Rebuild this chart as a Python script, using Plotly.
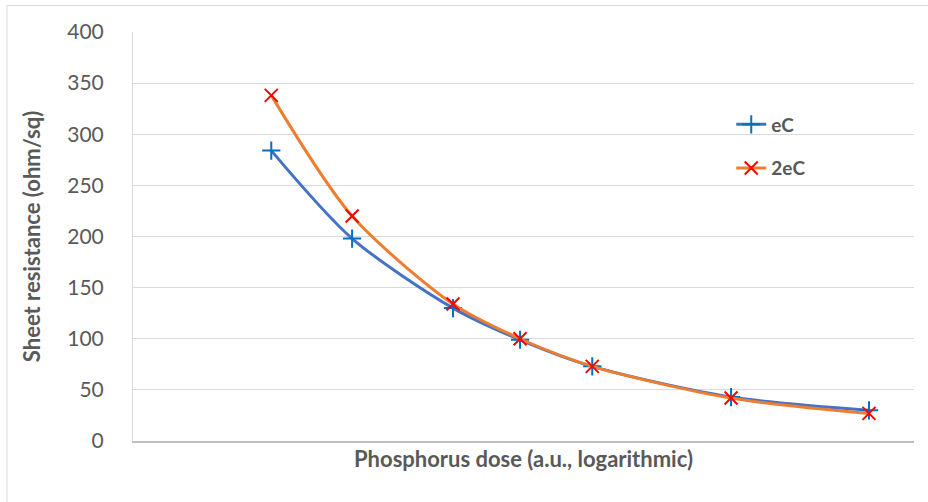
import plotly.graph_objects as go

# Phosphorus dose (arbitrary units, plotted on a log axis)
dose = [2.26, 3.64, 6.6, 9.8, 15.0, 34.0, 76.7]

# Sheet resistance (ohm/sq) for the two emitter conditions
sheet_res_eC = [284, 198, 130, 99, 73, 43, 30]
sheet_res_2eC = [338, 220, 134, 100, 73, 42, 27]

y_ticks = [0, 50, 100, 150, 200, 250, 300, 350, 400]

text_grey = "#595959"
font_family = "Lato, 'Open Sans', sans-serif"

fig = go.Figure()

fig.add_trace(go.Scatter(
    x=dose, y=sheet_res_eC, name="eC", legendgroup="a",
    mode="lines+markers",
    line=dict(color="#4472C4", width=3, shape="spline", smoothing=0.8),
    marker=dict(symbol="cross-thin", size=13, color="#0070C0",
                line=dict(color="#0070C0", width=2)),
))

fig.add_trace(go.Scatter(
    x=dose, y=sheet_res_2eC, name="2eC", legendgroup="b",
    mode="lines+markers",
    line=dict(color="#ED7D31", width=3, shape="spline", smoothing=0.8),
    marker=dict(symbol="x-thin", size=13, color="#FF0000",
                line=dict(color="#FF0000", width=2)),
))

# Chart-area frame
fig.add_shape(type="rect", xref="paper", yref="paper",
              x0=-0.1613, x1=1.05, y0=-0.25, y1=1.065,
              line=dict(color="#D9D9D9", width=1), layer="below")

fig.update_layout(
    width=928, height=502,
    margin=dict(l=133, r=14, t=32, b=61),
    paper_bgcolor="white", plot_bgcolor="white",
    font=dict(family=font_family, color=text_grey),
    showlegend=True,
    legend=dict(
        x=0.766, y=0.72, xanchor="left", yanchor="middle",
        font=dict(size=19, color=text_grey, family=font_family, weight="bold"),
        tracegroupgap=16,
        bgcolor="rgba(0,0,0,0)",
    ),
    xaxis=dict(
        type="log", range=[0, 2],
        showticklabels=False, ticks="", showgrid=False,
        showline=True, linecolor="#BFBFBF", linewidth=1.5,
        zeroline=False,
        title=dict(text="Phosphorus dose (a.u., logarithmic)", standoff=10,
                   font=dict(size=22, color=text_grey, family=font_family,
                             weight="bold")),
    ),
    yaxis=dict(
        range=[0, 400], tickvals=y_ticks, ticks="",
        showgrid=True, gridcolor="#D9D9D9", gridwidth=1,
        showline=True, linecolor="#D9D9D9", linewidth=1,
        zeroline=False,
        ticklabelstandoff=24,
        tickfont=dict(size=21, color=text_grey, family=font_family),
        title=dict(text="Sheet resistance (ohm/sq)", standoff=20,
                   font=dict(size=22, color=text_grey, family=font_family,
                             weight="bold")),
    ),
)

fig.write_html("out.html")
